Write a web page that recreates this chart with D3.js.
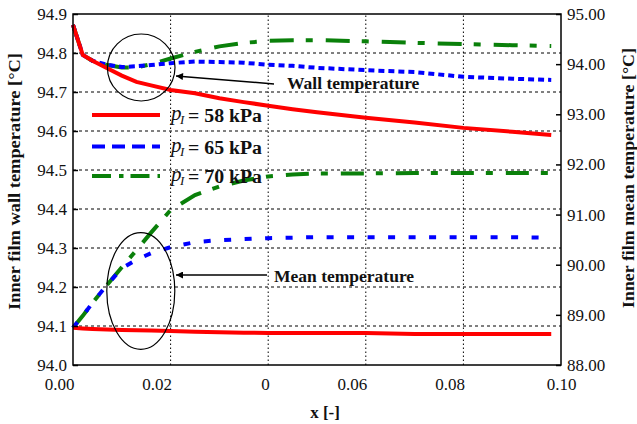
<!DOCTYPE html>
<head>
<meta charset="utf-8">
<script src="https://d3js.org/d3.v7.min.js"></script>
<style>
  body { margin: 0; background: #fff; }
  svg text { font-family: "Liberation Serif", "Times New Roman", serif; fill: #111; }
</style>
</head>
<body>
<div id="vis"></div>
<script>
// values
const xs = [0, 0.002, 0.004, 0.007, 0.01, 0.013, 0.016, 0.02, 0.025, 0.03, 0.035, 0.04, 0.045, 0.05, 0.06, 0.07, 0.08, 0.09, 0.098]

// wall temperature, left axis
const wall58 = [94.872, 94.795, 94.78, 94.761, 94.742, 94.726, 94.717, 94.705, 94.697, 94.684, 94.674, 94.665, 94.656, 94.648, 94.634, 94.622, 94.608, 94.598, 94.59]
const wall65 = [94.872, 94.795, 94.78, 94.77, 94.764, 94.766, 94.769, 94.774, 94.778, 94.777, 94.775, 94.77, 94.767, 94.762, 94.756, 94.751, 94.739, 94.734, 94.731]
const wall70 = [94.872, 94.795, 94.78, 94.769, 94.763, 94.763, 94.771, 94.786, 94.803, 94.817, 94.826, 94.831, 94.833, 94.833, 94.83, 94.826, 94.823, 94.82, 94.818]

// mean temperature, right axis
const mean58 = [88.744, 88.73, 88.72, 88.71, 88.70, 88.695, 88.69, 88.68, 88.665, 88.652, 88.645, 88.64, 88.64, 88.64, 88.64, 88.62, 88.62, 88.62, 88.62]
const mean65 = [88.744, 88.98, 89.24, 89.6, 89.93, 90.1, 90.23, 90.35, 90.45, 90.49, 90.51, 90.53, 90.54, 90.55, 90.55, 90.55, 90.55, 90.55, 90.54]
const mean70 = [88.744, 88.98, 89.24, 89.6, 89.95, 90.29, 90.64, 91.09, 91.39, 91.56, 91.68, 91.76, 91.8, 91.82, 91.82, 91.83, 91.83, 91.83, 91.83]

const seriesNames = ['58', '65', '70']
const xTicks = [0, 0.02, 0.04, 0.06, 0.08, 0.1]
const xTickLabels = ['0.00', '0.02', '0', '0.06', '0.08', '0.10']
const yLeftTicks = [94.0, 94.1, 94.2, 94.3, 94.4, 94.5, 94.6, 94.7, 94.8, 94.9]
const yRightTicks = [88, 89, 90, 91, 92, 93, 94, 95]

const width = 637
const height = 424
const margin = { top: 14, right: 76, bottom: 59, left: 73 }

const styles = {
  '58': { color: '#ff0000', wallDash: null, meanDash: null, legendDash: null },
  '65': { color: '#0000ff', wallDash: '6,4', meanDash: '7,13.5', legendDash: '13,7' },
  '70': { color: '#0a800a', wallDash: '24,12,7,13', meanDash: '23,12,7,13', legendDash: '19,8,4.5,7' }
}

const svg = d3.select('#vis').append('svg')
  .attr('width', width)
  .attr('height', height)

const x = d3.scaleLinear().domain([0, 0.1]).range([margin.left, width - margin.right])
const yL = d3.scaleLinear().domain([94.0, 94.9]).range([height - margin.bottom, margin.top])
const yR = d3.scaleLinear().domain([88, 95]).range([height - margin.bottom, margin.top])

// grid
svg.append('g').selectAll('line')
  .data(yLeftTicks.slice(1, -1))
  .enter().append('line')
  .attr('x1', x(0)).attr('x2', x(0.1))
  .attr('y1', d => yL(d)).attr('y2', d => yL(d))
  .attr('stroke', '#000').attr('stroke-width', 1)
  .attr('stroke-dasharray', '3,3')

svg.append('g').selectAll('line')
  .data(xTicks.slice(1, -1))
  .enter().append('line')
  .attr('x1', d => x(d)).attr('x2', d => x(d))
  .attr('y1', yL(94.0)).attr('y2', yL(94.9))
  .attr('stroke', '#000').attr('stroke-width', 1)
  .attr('stroke-dasharray', '1.5,2.5')

// lines
const wallLine = d3.line().x((d, i) => x(xs[i])).y(d => yL(d))
const meanLine = d3.line().x((d, i) => x(xs[i])).y(d => yR(d))

const wallData = { '58': wall58, '65': wall65, '70': wall70 }
const meanData = { '58': mean58, '65': mean65, '70': mean70 }

const plot = svg.append('g')
seriesNames.slice().reverse().forEach(function (k) {
  const s = styles[k]
  plot.append('path')
    .attr('d', meanLine(meanData[k]))
    .attr('fill', 'none').attr('stroke', s.color).attr('stroke-width', 4)
    .attr('stroke-dasharray', s.meanDash)
  plot.append('path')
    .attr('d', wallLine(wallData[k]))
    .attr('fill', 'none').attr('stroke', s.color).attr('stroke-width', 4)
    .attr('stroke-dasharray', s.wallDash)
})

// frame
svg.append('rect')
  .attr('x', x(0)).attr('y', yL(94.9))
  .attr('width', x(0.1) - x(0)).attr('height', yL(94.0) - yL(94.9))
  .attr('fill', 'none').attr('stroke', '#000').attr('stroke-width', 1.5)

// axes
const leftAxis = svg.append('g')
  .attr('transform', `translate(${x(0)},0)`)
  .call(d3.axisLeft(yL).tickValues(yLeftTicks).tickFormat(d3.format('.1f')).tickSize(-5).tickPadding(6))
const rightAxis = svg.append('g')
  .attr('transform', `translate(${x(0.1)},0)`)
  .call(d3.axisRight(yR).tickValues(yRightTicks).tickFormat(d3.format('.2f')).tickSize(-5).tickPadding(6))
const bottomAxis = svg.append('g')
  .attr('transform', `translate(0,${yL(94.0)})`)
  .call(d3.axisBottom(x).tickValues(xTicks).tickFormat((d, i) => xTickLabels[i]).tickSize(0))

;[leftAxis, rightAxis, bottomAxis].forEach(function (a) {
  a.select('.domain').remove()
  a.selectAll('line').attr('stroke', '#000').attr('stroke-width', 1.5)
  a.selectAll('text').style('font-size', '17px').attr('fill', '#222')
})
bottomAxis.selectAll('text')
  .attr('y', 25).attr('dy', 0)
  .attr('text-anchor', (d, i) => i === xTicks.length - 1 ? 'middle' : 'end')
  .attr('dx', (d, i) => i === xTicks.length - 1 ? 0 : 1)

// axis titles
svg.append('text')
  .attr('transform', `translate(20,${(53 + 310) / 2}) rotate(-90)`)
  .attr('text-anchor', 'middle')
  .style('font-size', '16px').style('font-weight', 'bold')
  .attr('textLength', 257).attr('lengthAdjust', 'spacingAndGlyphs')
  .text('Inner film wall temperature [°C]')
svg.append('text')
  .attr('transform', `translate(634,${(48 + 308) / 2}) rotate(-90)`)
  .attr('text-anchor', 'middle')
  .style('font-size', '16px').style('font-weight', 'bold')
  .attr('textLength', 260).attr('lengthAdjust', 'spacingAndGlyphs')
  .text('Inner film mean temperature [°C]')
svg.append('text')
  .attr('x', 325).attr('y', 418)
  .attr('text-anchor', 'middle')
  .style('font-size', '17px').style('font-weight', 'bold')
  .text('x [-]')

// legend
const legendY = [115, 146.5, 176]
seriesNames.forEach(function (k, i) {
  const s = styles[k]
  const g = svg.append('g').attr('transform', `translate(0,${legendY[i]})`)
  g.append('line')
    .attr('x1', 92).attr('x2', 160)
    .attr('stroke', s.color).attr('stroke-width', 4)
    .attr('stroke-dasharray', s.legendDash)
  const t = g.append('text').attr('x', 171).attr('y', 5)
  t.append('tspan').style('font-style', 'italic').style('font-size', '21px').text('p')
  t.append('tspan').style('font-style', 'italic').style('font-size', '13px').attr('dx', -1.5).attr('dy', 4).text('I')
  g.append('text').attr('x', 188).attr('y', 7)
    .style('font-size', '18px').style('font-weight', 'bold')
    .attr('textLength', 74).attr('lengthAdjust', 'spacingAndGlyphs')
    .text('= ' + k + ' kPa')
})

// annotations
svg.append('defs').append('marker')
  .attr('id', 'arrow')
  .attr('viewBox', '0 0 10 10')
  .attr('refX', 10).attr('refY', 5)
  .attr('markerWidth', 9).attr('markerHeight', 7)
  .attr('markerUnits', 'userSpaceOnUse')
  .attr('orient', 'auto')
  .append('path').attr('d', 'M0,0L10,5L0,10z').attr('fill', '#000')

svg.append('ellipse')
  .attr('cx', 141.2).attr('cy', 67.5).attr('rx', 33.8).attr('ry', 33.5)
  .attr('fill', 'none').attr('stroke', '#000').attr('stroke-width', 1.2)
svg.append('ellipse')
  .attr('cx', 140.8).attr('cy', 291).attr('rx', 34).attr('ry', 58.3)
  .attr('fill', 'none').attr('stroke', '#000').attr('stroke-width', 1.2)

svg.append('line')
  .attr('x1', 274).attr('y1', 84).attr('x2', 176).attr('y2', 76)
  .attr('stroke', '#000').attr('stroke-width', 1.5).attr('marker-end', 'url(#arrow)')
svg.append('text')
  .attr('x', 287).attr('y', 88.5)
  .style('font-size', '17.5px').style('font-weight', 'bold')
  .text('Wall temperature')

svg.append('line')
  .attr('x1', 267).attr('y1', 275).attr('x2', 176).attr('y2', 275)
  .attr('stroke', '#000').attr('stroke-width', 1.5).attr('marker-end', 'url(#arrow)')
svg.append('text')
  .attr('x', 274).attr('y', 281.5)
  .style('font-size', '17.5px').style('font-weight', 'bold')
  .text('Mean temperature')
</script>
</body>
